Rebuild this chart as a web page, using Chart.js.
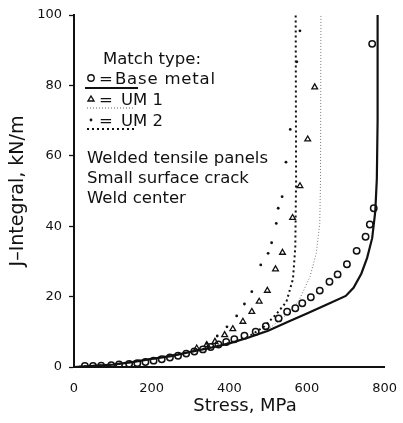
<!DOCTYPE html>
<html>
<head>
<meta charset="utf-8">
<script src="https://cdn.jsdelivr.net/npm/chart.js@4/dist/chart.umd.min.js"></script>
<style>
html,body{margin:0;padding:0;background:#fff;}
#wrap{width:403px;height:423px;position:relative;}
</style>
</head>
<body>
<div id="wrap"><canvas id="c" width="403" height="423"></canvas></div>
<script>
// Experimental points: Base metal (circles)
const baseStress = [28,49,70,96,116,142,163,184,205,226,247,268,289,310,332,352,372,392,413,439,468,494,527,549,570,588,610,633,658,679,703,728,751,762,772,768];
const baseJ      = [0.3,0.3,0.4,0.5,0.7,0.9,1.1,1.4,1.8,2.2,2.7,3.2,3.8,4.4,5.0,5.7,6.4,7.1,7.9,8.9,10.0,11.6,13.8,15.7,16.7,18.1,19.8,21.7,24.2,26.3,29.2,33.0,37.0,40.5,45.1,91.8];
// UM 1 (triangles)
const um1Stress = [316,342,363,388,409,435,458,477,498,519,537,563,582,602,620];
const um1J      = [5.3,6.3,7.2,9.1,10.8,12.9,15.7,18.6,21.7,27.8,32.5,42.4,51.4,64.7,79.5];
// UM 2 (dots)
const um2Stress = [342,369,394,419,439,458,481,500,509,521,526,536,546,557,574,582];
const um2J      = [6.7,8.8,11.4,14.5,17.9,21.4,29.0,32.3,35.3,40.8,45.1,48.4,58.2,67.5,86.7,95.5];
// Predicted curves
const baseLineStress = [0,50,100,150,200,250,300,350,400,450,500,550,600,650,700,720,740,755,768,776,780,782,782];
const baseLineJ      = [0,0.3,0.7,1.4,2.3,3.1,4.3,5.4,6.7,8.4,10.3,12.8,15.2,17.7,20.2,22.5,26.5,31,36.6,44.2,53.4,70,100];
const um1LineStress = [0,100,200,300,400,450,500,530,555,580,608,624,633,635,636];
const um1LineJ      = [0,0.7,2.3,4.3,6.7,8.5,10.8,13.2,15.7,19.0,25.7,32.3,40.8,53.4,100];
const um2LineStress = [0,100,200,300,400,450,490,521,547,564,570,572,571];
const um2LineJ      = [0,0.7,2.3,4.3,6.8,8.6,11.5,15.0,18.5,25.0,34.0,53.0,100];

const xTicks = [0,200,400,600,800];
const yTicks = [0,20,40,60,80,100];

const zip = (xs, ys) => xs.map((x, i) => ({x: x, y: ys[i]}));
const FONT = "'DejaVu Sans', sans-serif";

const legendPlugin = {
  id: 'legendText',
  afterDraw(chart) {
    const ctx = chart.ctx;
    ctx.save();
    ctx.fillStyle = '#111';
    ctx.strokeStyle = '#111';
    ctx.font = "16.5px " + FONT;
    ctx.textBaseline = 'alphabetic';
    ctx.textAlign = 'left';
    ctx.fillText('Match type:', 103, 64);
    ctx.fillText('=', 99, 84);
    ctx.fillText('=', 99, 105);
    ctx.fillText('=', 99, 126);
    ctx.letterSpacing = '0.8px';
    ctx.fillText('Base metal', 115, 84);
    ctx.letterSpacing = '0px';
    ctx.fillText('UM 1', 121, 105);
    ctx.fillText('UM 2', 121, 126);
    ctx.fillText('Welded tensile panels', 87, 163);
    ctx.fillText('Small surface crack', 87, 183);
    ctx.fillText('Weld center', 87, 203);
    // x-axis title
    ctx.font = "18px " + FONT;
    ctx.textAlign = 'center';
    ctx.textBaseline = 'middle';
    ctx.fillText('Stress, MPa', 245, 406);
    // legend symbols
    ctx.lineWidth = 1.4;
    ctx.beginPath(); ctx.arc(91, 78, 3.2, 0, Math.PI * 2); ctx.stroke();
    ctx.beginPath(); ctx.moveTo(88, 101); ctx.lineTo(94, 101); ctx.lineTo(91, 96); ctx.closePath(); ctx.stroke();
    ctx.beginPath(); ctx.arc(91, 120, 1.4, 0, Math.PI * 2); ctx.fill();
    // legend line samples
    ctx.lineWidth = 2;
    ctx.setLineDash([]);
    ctx.beginPath(); ctx.moveTo(85, 88); ctx.lineTo(138, 88); ctx.stroke();
    ctx.lineWidth = 1;
    ctx.strokeStyle = '#666';
    ctx.setLineDash([1, 2]);
    ctx.beginPath(); ctx.moveTo(87, 108); ctx.lineTo(135, 108); ctx.stroke();
    ctx.strokeStyle = '#111';
    ctx.lineWidth = 2;
    ctx.setLineDash([2, 3]);
    ctx.beginPath(); ctx.moveTo(87, 129); ctx.lineTo(137, 129); ctx.stroke();
    ctx.restore();
  }
};

new Chart(document.getElementById('c'), {
  type: 'scatter',
  data: {
    datasets: [
      { label: 'Base metal', data: zip(baseStress, baseJ), pointStyle: 'circle', pointRadius: 3.2,
        borderColor: '#111', backgroundColor: 'rgba(0,0,0,0)', borderWidth: 1.5, showLine: false, order: 1 },
      { label: 'UM 1', data: zip(um1Stress, um1J), pointStyle: 'triangle', pointRadius: 3.3,
        borderColor: '#111', backgroundColor: 'rgba(0,0,0,0)', borderWidth: 1.3, showLine: false, order: 2 },
      { label: 'UM 2', data: zip(um2Stress, um2J), pointStyle: 'circle', pointRadius: 1.4,
        borderColor: '#111', backgroundColor: '#111', borderWidth: 0, showLine: false, order: 3 },
      { label: 'Base metal (predicted)', data: zip(baseLineStress, baseLineJ), showLine: true, pointRadius: 0,
        borderColor: '#111', borderWidth: 2.2, tension: 0, order: 4 },
      { label: 'UM 1 (predicted)', data: zip(um1LineStress, um1LineJ), showLine: true, pointRadius: 0,
        borderColor: '#777', borderWidth: 1, borderDash: [1, 2], tension: 0, order: 5 },
      { label: 'UM 2 (predicted)', data: zip(um2LineStress, um2LineJ), showLine: true, pointRadius: 0,
        borderColor: '#111', borderWidth: 2, borderDash: [2, 3], tension: 0, order: 6 }
    ]
  },
  options: {
    responsive: false,
    animation: false,
    events: [],
    layout: { padding: { top: 15, right: 12, left: 0, bottom: 0 } },
    plugins: { legend: { display: false }, tooltip: { enabled: false } },
    scales: {
      x: {
        type: 'linear', min: 0, max: 800,
        afterFit: s => { s.height = 56; },
        afterBuildTicks: s => { s.ticks = xTicks.map(v => ({value: v})); },
        grid: { display: false },
        border: { display: true, color: '#111', width: 2 },
        ticks: { color: '#111', font: { family: FONT, size: 13 }, padding: 6, maxRotation: 0 },
        title: { display: false }
      },
      y: {
        type: 'linear', min: 0, max: 100,
        afterFit: s => { s.width = 74; },
        afterBuildTicks: s => { s.ticks = yTicks.map(v => ({value: v})); },
        grid: { display: true, drawOnChartArea: false, drawTicks: true, tickLength: 5, tickColor: '#111', tickWidth: 1.3 },
        border: { display: true, color: '#111', width: 2 },
        ticks: { color: '#111', font: { family: FONT, size: 13 }, padding: 7 },
        title: { display: true, text: 'J–Integral, kN/m', color: '#111', font: { family: FONT, size: 19 }, padding: { top: 7, bottom: 0 } }
      }
    }
  },
  plugins: [legendPlugin]
});
</script>
</body>
</html>
